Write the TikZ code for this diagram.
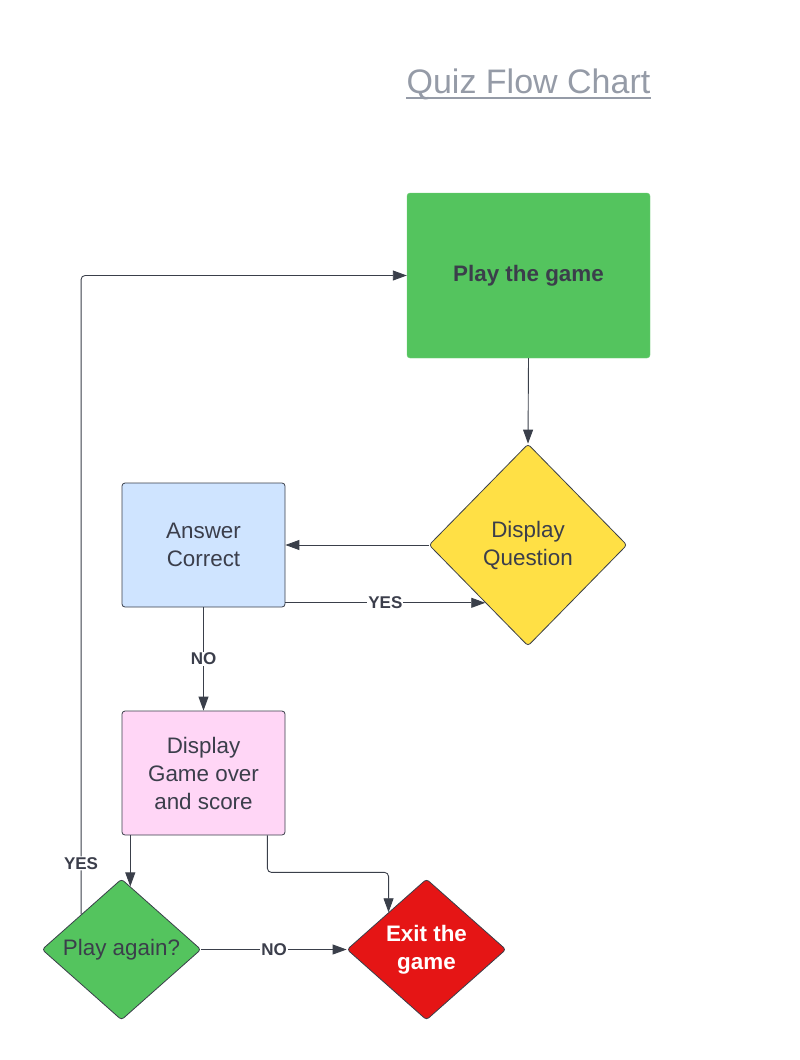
\documentclass[tikz,border=0pt]{standalone}
\usepackage{fontspec}
\setmainfont{Liberation Sans}
\usetikzlibrary{shapes.geometric,calc,arrows.meta}
\definecolor{linec}{HTML}{3A3F4A}
\definecolor{txtc}{HTML}{3B3E4B}
\definecolor{titlec}{HTML}{959BA7}
\definecolor{playg}{HTML}{54C45E}
\definecolor{quesy}{HTML}{FFE045}
\definecolor{ansb}{HTML}{CFE4FF}
\definecolor{overp}{HTML}{FFD6F6}
\definecolor{exitr}{HTML}{E51515}
\begin{document}
\begin{tikzpicture}[x=1pt, y=-1pt, font=\fontsize{22.4}{28}\selectfont,
  box/.style={draw=linec, rounded corners=3pt, line width=0.8pt, minimum width=163pt, minimum height=124pt, align=center, text=txtc},
  dia/.style={diamond, draw=linec, rounded corners=3pt, line width=0.8pt, inner sep=0pt, align=center, text=txtc},
  conn/.style={draw=linec, line width=0.9pt, -{Triangle[length=14pt,width=10pt]}},
  lbl/.style={fill=white, text=txtc, inner sep=1pt, font=\bfseries\fontsize{17}{17}\selectfont}]
\useasboundingbox (0,0) rectangle (800,1060);
% title
\node[anchor=base, inner sep=0pt, text=titlec, font=\fontsize{34}{34}\selectfont] (title) at (528.5,93) {Quiz Flow Chart};
\draw[titlec, line width=1.8pt] ([yshift=-5pt]title.base west) -- ([yshift=-5pt]title.base east);
% boxes and decisions
\node[fill=playg, draw=playg!85!white, rounded corners=3pt, minimum width=243pt, minimum height=165pt, text=txtc, font=\bfseries\fontsize{22.4}{28}\selectfont] (play) at (528.5,275.5) {Play the game};
\node[dia, fill=quesy, minimum width=198pt, minimum height=202pt] (ques) at (528,545) {Display\\Question};
\node[box, fill=ansb] (ans) at (203.5,545) {Answer\\Correct};
\node[box, fill=overp] (over) at (203.5,773) {Display\\Game over\\and score};
\node[dia, fill=playg, minimum width=159pt, minimum height=141pt] (again) at (121.5,949.5) {Play again?};
\node[dia, fill=exitr, text=white, font=\bfseries\fontsize{22.4}{28}\selectfont, minimum width=159pt, minimum height=141pt] (exit) at (426.5,949.5) {Exit the\\game};
% connectors
\coordinate (yesend) at ($(ques.west)!0.57!(ques.south)$);
\coordinate (againtop) at ($(again.north)!0.11!(again.east)$);
\coordinate (exittop) at ($(exit.north)!0.475!(exit.west)$);
\coordinate (againleft) at ($(again.north)!0.506!(again.west)$);
\draw[conn] (play.south) -- (ques.north);
\draw[conn] (ques.west) -- (ans.east);
\draw[conn] (ans.east |- yesend) -- node[lbl] {YES} (yesend);
\draw[conn] (ans.south) -- node[lbl] {NO} (over.north);
\draw[conn] (againtop |- over.south) -- (againtop);
\draw[conn, rounded corners=4pt] ([xshift=-18pt]over.south east) -- ++(0,37) -| (exittop);
\draw[conn] (again.east) -- node[lbl] {NO} (exit.west);
\draw[conn, rounded corners=4pt] (againleft) |- node[lbl, pos=0.04] {YES} (play.west);
\end{tikzpicture}
\end{document}
